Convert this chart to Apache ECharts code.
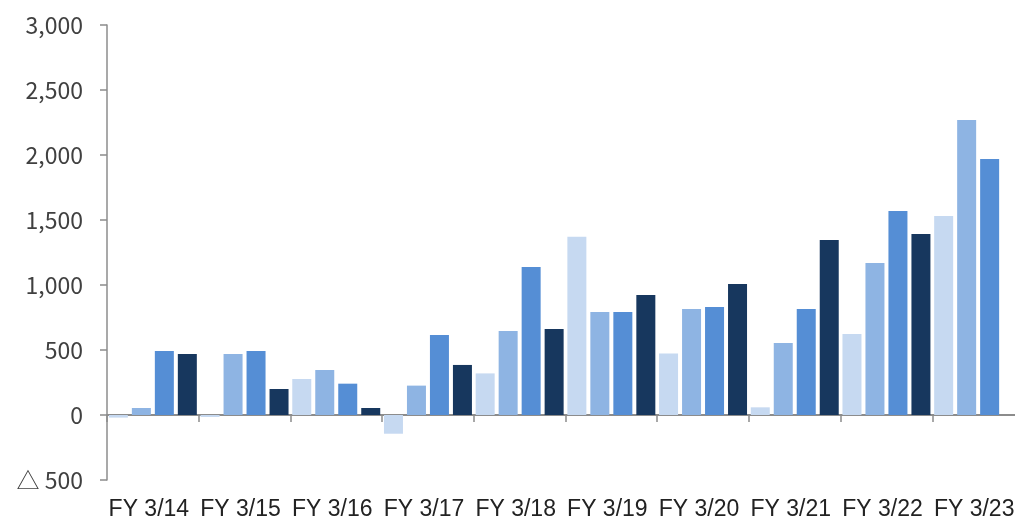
<!DOCTYPE html>
<html>
<head>
<meta charset="utf-8">
<script src="https://cdn.jsdelivr.net/npm/echarts@6/dist/echarts.min.js"></script>
<style>
  html, body { margin: 0; padding: 0; background: #fff; overflow: hidden; }
  #chart { width: 1025px; height: 519px; }
</style>
</head>
<body>
<div id="chart"></div>
<script>
// categories (fiscal years)
var years = ['FY 3/14', 'FY 3/15', 'FY 3/16', 'FY 3/17', 'FY 3/18',
             'FY 3/19', 'FY 3/20', 'FY 3/21', 'FY 3/22', 'FY 3/23'];

// one value per year for each of the four bars
var q1 = [-20, -15, 277, -144, 320, 1372, 474, 59, 623, 1531];
var q2 = [54, 469, 346, 226, 646, 792, 815, 554, 1169, 2269];
var q3 = [492, 492, 241, 615, 1138, 792, 831, 815, 1569, 1969];
var q4 = [469, 200, 54, 385, 662, 923, 1008, 1346, 1392, null];

var yTicks = [-500, 0, 500, 1000, 1500, 2000, 2500, 3000];

var colors = ['#c6d9f1', '#8eb4e3', '#558ed5', '#17375e'];

function fmt(v) {
    var s = Math.abs(v).toString().replace(/\B(?=(\d{3})+(?!\d))/g, ',');
    return v < 0 ? '△ ' + s : s;
}

function barSeries(data, i) {
    return {
        type: 'bar',
        data: data,
        xAxisIndex: 0,
        barWidth: 19,
        barGap: '21%',
        itemStyle: { color: colors[i] },
        silent: true,
        animation: false
    };
}

var chart = echarts.init(document.getElementById('chart'));
chart.setOption({
    animation: false,
    grid: { left: 107, right: 1, top: 25, bottom: 39, outerBoundsMode: 'none' },
    xAxis: [{
        type: 'category',
        data: years,
        position: 'bottom',
        axisLine: { show: false, onZero: false },
        axisTick: { show: false },
        axisLabel: {
            interval: 0,
            hideOverlap: false,
            margin: 18,
            fontSize: 23,
            padding: [0, 8, 0, 0],
            color: '#222',
            fontFamily: 'Liberation Sans, Arial, sans-serif'
        }
    }, {
        type: 'category',
        data: years,
        position: 'bottom',
        axisLine: { show: true, onZero: true, lineStyle: { color: '#8c8c8c', width: 2 } },
        axisTick: { show: true, length: 7, lineStyle: { color: '#8c8c8c', width: 1.5 } },
        axisLabel: { show: false }
    }],
    yAxis: {
        type: 'value',
        min: yTicks[0],
        max: yTicks[yTicks.length - 1],
        interval: 500,
        splitLine: { show: false },
        axisLine: { show: true, lineStyle: { color: '#8c8c8c', width: 1.5 } },
        axisTick: { show: true, length: 7, lineStyle: { color: '#8c8c8c', width: 1.5 } },
        axisLabel: {
            margin: 24,
            fontSize: 23,
            color: '#404040',
            fontFamily: 'Noto Sans CJK JP, sans-serif',
            formatter: fmt
        }
    },
    series: [q1, q2, q3, q4].map(barSeries)
});
</script>
</body>
</html>
